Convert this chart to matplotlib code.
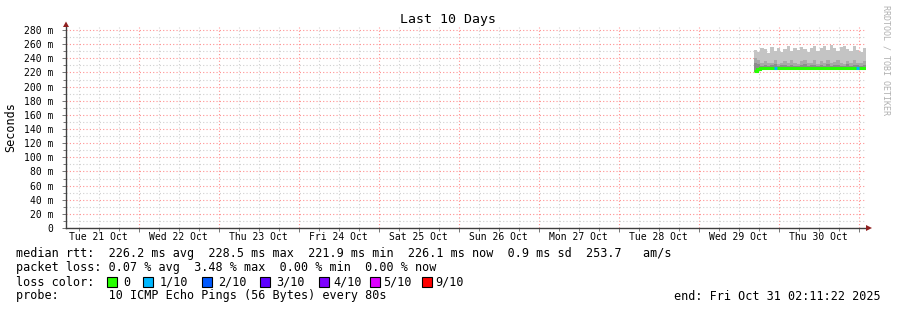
#!/usr/bin/env python
# -*- coding: utf-8 -*-

import matplotlib
matplotlib.use('Agg')
import matplotlib.pyplot as plt
from matplotlib.patches import Rectangle, Polygon
import numpy as np

plt.rcParams['font.family'] = ['DejaVu Sans Mono']

W, H = 897, 310

# time axis: hours since Tue 21 Oct 00:00
t_begin = 2.19
t_end = 242.19
data_start = 208.5

day_labels = ['Tue 21 Oct', 'Wed 22 Oct', 'Thu 23 Oct', 'Fri 24 Oct', 'Sat 25 Oct',
              'Sun 26 Oct', 'Mon 27 Oct', 'Tue 28 Oct', 'Wed 29 Oct', 'Thu 30 Oct']
day_noon = [12, 36, 60, 84, 108, 132, 156, 180, 204, 228]

# median rtt per step (ms)
median = [221.6, 224.8, 226.0, 226.2, 225.9, 226.1, 226.3, 226.0, 225.8, 226.1,
          226.2, 226.0, 226.1, 225.9, 226.2, 226.3, 226.0, 226.1, 225.9, 226.2,
          226.0, 226.1, 226.3, 226.0, 225.8, 226.1, 226.2, 226.0, 226.1, 225.9,
          226.2, 226.0, 226.1, 226.1]
# lost pings out of 10 per step
loss = [0, 0, 0, 0, 0, 0, 1, 0, 0, 0,
        0, 0, 0, 0, 0, 0, 0, 0, 0, 0,
        0, 0, 0, 0, 0, 0, 0, 0, 0, 0,
        0, 1, 0, 0]
# smoke envelope (ms)
smoke_min = [220.5, 223.0, 224.1, 224.3, 224.0, 224.2, 224.4, 224.1, 223.9, 224.2,
             224.3, 224.1, 224.2, 224.0, 224.3, 224.4, 224.1, 224.2, 224.0, 224.3,
             224.1, 224.2, 224.4, 224.1, 223.9, 224.2, 224.3, 224.1, 224.2, 224.0,
             224.3, 224.1, 224.2, 224.2]
smoke_max = [252, 249, 255, 253, 248, 256, 251, 254, 249, 253,
             257, 250, 254, 252, 256, 253, 249, 255, 258, 251,
             254, 257, 252, 259, 255, 251, 256, 258, 253, 250,
             257, 252, 249, 255]
smoke_mid = [240, 238, 233, 236, 234, 233, 237, 232, 234, 236,
             233, 237, 234, 232, 236, 238, 233, 234, 237, 232,
             236, 234, 238, 233, 235, 237, 234, 232, 236, 233,
             237, 234, 233, 236]
smoke_dark = [234, 232, 229, 231, 229, 230, 232, 229, 230, 231,
              229, 231, 229, 229, 231, 232, 229, 230, 231, 229,
              231, 229, 232, 229, 230, 231, 229, 229, 232, 229,
              231, 230, 229, 231]

loss_colors = {0: '#26ff00', 1: '#00b8ff', 2: '#0059ff', 3: '#5e00ff',
               4: '#7e00ff', 5: '#dd00ff', 9: '#ff0000'}
loss_names = ['0', '1/10', '2/10', '3/10', '4/10', '5/10', '9/10']
loss_keys = [0, 1, 2, 3, 4, 5, 9]

legend_rtt = 'median rtt:  226.2 ms avg  228.5 ms max  221.9 ms min  226.1 ms now  0.9 ms sd  253.7   am/s'
legend_loss = 'packet loss: 0.07 % avg  3.48 % max  0.00 % min  0.00 % now'
legend_probe = 'probe:       10 ICMP Echo Pings (56 Bytes) every 80s'
legend_end = 'end: Fri Oct 31 02:11:22 2025'


def fx(x):
    return x / W


def fy(y):
    return 1 - y / H


fig = plt.figure(figsize=(W / 100, H / 100), dpi=100)
fig.patch.set_facecolor('white')

ax_top = 26.5
ax_bot = 228
ax = fig.add_axes([fx(66), fy(ax_bot), 800 / W, (ax_bot - ax_top) / H])
ax.set_xlim(t_begin, t_end)
ax.set_ylim(0, 285)
ax.set_facecolor('white')

# grid
ax.set_yticks(np.arange(0, 281, 20))
ax.set_yticks(np.arange(10, 281, 20), minor=True)
ax.set_xticks(np.arange(24, 241, 24))
ax.set_xticks([h for h in np.arange(6, 243, 6) if h % 24 != 0], minor=True)
ax.grid(True, which='minor', color='#d0d0d0', linestyle=(0, (1, 2)), linewidth=0.8)
ax.grid(True, which='major', color='#ff9090', linestyle=(0, (1, 2)), linewidth=0.8)
ax.set_axisbelow(True)

ylabels = ['0'] + ['%d m' % v for v in range(20, 281, 20)]
ax.set_yticklabels(ylabels, fontsize=7)
ax.set_xticklabels([])
ax.tick_params(axis='both', which='both', direction='out', color='#606060', width=0.6)
ax.tick_params(axis='y', which='major', length=3, pad=6)
ax.tick_params(axis='y', which='minor', length=2)
ax.tick_params(axis='x', which='major', length=3)
ax.tick_params(axis='x', which='minor', length=2)

for s in ['top', 'right']:
    ax.spines[s].set_visible(False)
for s in ['left', 'bottom']:
    ax.spines[s].set_color('#404040')
    ax.spines[s].set_linewidth(1.0)

for h, lab in zip(day_noon, day_labels):
    ax.text(h, -9 / (ax_bot - ax_top), lab, transform=ax.get_xaxis_transform(),
            ha='center', va='center', fontsize=7)

fig.text(fx(11), fy(127), 'Seconds', rotation=90, ha='center', va='center', fontsize=8.5)

# smoke
n = len(median)
edges = np.linspace(data_start, t_end, n + 1)
ax.stairs(smoke_max, edges, baseline=smoke_min, fill=True, color='#c4c4c4', lw=0)
ax.stairs(smoke_mid, edges, baseline=smoke_min, fill=True, color='#a8a8a8', lw=0)
ax.stairs(smoke_dark, edges, baseline=smoke_min, fill=True, color='#8c8c8c', lw=0)

# median line coloured by loss
ax.stairs(median, edges, baseline=None, color=loss_colors[0], lw=2.2)
for i in range(n):
    if loss[i] != 0:
        ax.hlines(median[i], edges[i], edges[i + 1], colors=loss_colors[loss[i]], lw=2.2)

# axis arrows
ax_x0 = 66
fig.patches.append(Polygon([[fx(ax_x0 - 3), fy(ax_top + 0.5)], [fx(ax_x0 + 3), fy(ax_top + 0.5)],
                            [fx(ax_x0), fy(ax_top - 5)]], closed=True, transform=fig.transFigure,
                           color='#902020', lw=0))
fig.patches.append(Polygon([[fx(866), fy(ax_bot - 3)], [fx(866), fy(ax_bot + 3)],
                            [fx(872), fy(ax_bot)]], closed=True, transform=fig.transFigure,
                           color='#902020', lw=0))

# title and side text
fig.text(fx(448), fy(19), 'Last 10 Days', ha='center', va='center', fontsize=9.5)
fig.text(fx(886), fy(5), 'RRDTOOL / TOBI OETIKER', rotation=-90, ha='center', va='top',
         fontsize=6, color='#b0b0b0')

# legend
fs = 8.5
fig.text(fx(16), fy(254), legend_rtt, ha='left', va='center', fontsize=fs)
fig.text(fx(16), fy(268), legend_loss, ha='left', va='center', fontsize=fs)
fig.text(fx(16), fy(282), 'loss color:', ha='left', va='center', fontsize=fs)
box_x = [107, 143, 202, 260, 319, 370, 422]
text_x = [123, 160, 218, 276, 333, 383, 435]
for k, name, bx, tx in zip(loss_keys, loss_names, box_x, text_x):
    fig.patches.append(Rectangle((fx(bx), fy(287)), 10 / W, 10 / H, transform=fig.transFigure,
                                 facecolor=loss_colors[k], edgecolor='black', lw=0.8))
    fig.text(fx(tx), fy(282), name, ha='left', va='center', fontsize=fs)
fig.text(fx(16), fy(296), legend_probe, ha='left', va='center', fontsize=fs)
fig.text(fx(881), fy(296), legend_end, ha='right', va='center', fontsize=fs)

fig.savefig('out.png', dpi=100, facecolor='white')
